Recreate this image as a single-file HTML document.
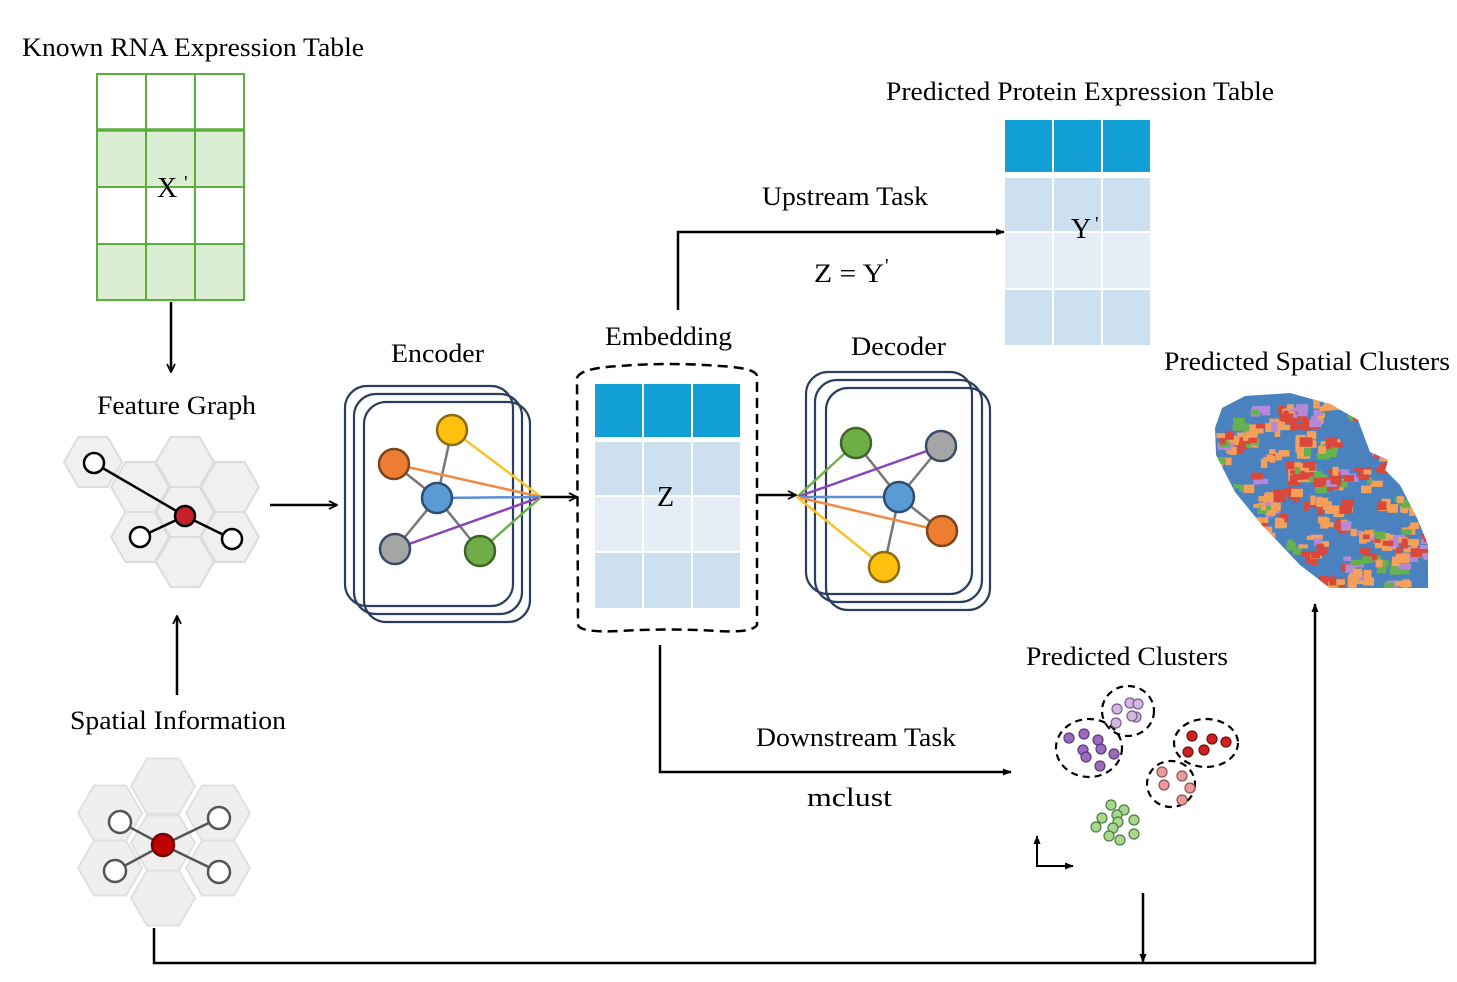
<!DOCTYPE html>
<html><head><meta charset="utf-8"><style>
html,body{margin:0;padding:0;background:#fff;}
svg{display:block;}
text{font-family:"Liberation Serif",serif;fill:#000;}
</style></head><body>
<svg id="s" width="1457" height="982" viewBox="0 0 1457 982" xmlns="http://www.w3.org/2000/svg">
<defs>
<marker id="ah" viewBox="0 0 10 10" refX="9" refY="5" markerWidth="10" markerHeight="10" markerUnits="userSpaceOnUse" orient="auto">
<path d="M1,1 L9,5 L1,9" fill="none" stroke="#000" stroke-width="1.8"/></marker>
<marker id="at" viewBox="0 0 10 10" refX="9" refY="5" markerWidth="9" markerHeight="9" markerUnits="userSpaceOnUse" orient="auto">
<path d="M0,1 L10,5 L0,9 z" fill="#000"/></marker>
<clipPath id="blob"><path d="M1215,428 L1222,408 L1245,396 L1290,393 L1330,404 L1358,420 L1370,452 L1388,460 L1385,470 L1400,485 L1418,520 L1428,545 L1428,588 L1330,588 L1300,565 L1262,525 L1235,492 L1216,455 Z"/></clipPath>
</defs>

<!-- Labels -->
<g font-size="26" lengthAdjust="spacingAndGlyphs">
<text x="22" y="56" textLength="342" lengthAdjust="spacingAndGlyphs">Known RNA Expression Table</text>
<text x="886" y="100" textLength="388" lengthAdjust="spacingAndGlyphs">Predicted Protein Expression Table</text>
<text x="762" y="205" textLength="166" lengthAdjust="spacingAndGlyphs">Upstream Task</text>
<text x="814" y="282" textLength="70" lengthAdjust="spacingAndGlyphs">Z = Y</text><text x="885" y="272" font-size="20">'</text>
<text x="605" y="345" textLength="127" lengthAdjust="spacingAndGlyphs">Embedding</text>
<text x="391" y="362" textLength="93" lengthAdjust="spacingAndGlyphs">Encoder</text>
<text x="851" y="355" textLength="95" lengthAdjust="spacingAndGlyphs">Decoder</text>
<text x="1164" y="370" textLength="286" lengthAdjust="spacingAndGlyphs">Predicted Spatial Clusters</text>
<text x="97" y="414" textLength="159" lengthAdjust="spacingAndGlyphs">Feature Graph</text>
<text x="1026" y="665" textLength="202" lengthAdjust="spacingAndGlyphs">Predicted Clusters</text>
<text x="70" y="729" textLength="216" lengthAdjust="spacingAndGlyphs">Spatial Information</text>
<text x="756" y="746" textLength="200" lengthAdjust="spacingAndGlyphs">Downstream Task</text>
<text x="807" y="806" textLength="85" lengthAdjust="spacingAndGlyphs">mclust</text>
</g>

<!-- RNA table -->
<g stroke="#5aaf3c" stroke-width="2" fill="none">
<rect x="97" y="130" width="147" height="57" fill="#dbeed4" stroke="none"/>
<rect x="97" y="244" width="147" height="56" fill="#dbeed4" stroke="none"/>
<rect x="97" y="74" width="147" height="226"/>
<line x1="146" y1="74" x2="146" y2="300"/><line x1="195" y1="74" x2="195" y2="300"/>
<line x1="97" y1="130" x2="244" y2="130" stroke-width="3.5"/>
<line x1="97" y1="187" x2="244" y2="187"/><line x1="97" y1="244" x2="244" y2="244"/>
</g>
<text x="157" y="197" font-size="28">X</text><text x="184" y="189" font-size="20">'</text>

<!-- Protein table -->
<g>
<rect x="1005" y="120" width="145" height="52" fill="#119fd6"/>
<rect x="1005" y="178" width="145" height="54" fill="#cde0ef"/>
<rect x="1005" y="232" width="145" height="57" fill="#e5eef7"/>
<rect x="1005" y="289" width="145" height="56" fill="#cde0ef"/>
<g stroke="#fff" stroke-width="2"><line x1="1053" y1="118" x2="1053" y2="347"/><line x1="1102" y1="118" x2="1102" y2="347"/><line x1="1005" y1="232" x2="1150" y2="232"/><line x1="1005" y1="289" x2="1150" y2="289"/></g>
</g>
<text x="1071" y="238" font-size="28">Y</text><text x="1095" y="230" font-size="20">'</text>

<!-- Embedding -->
<path d="M577,378 Q580,368 620,366 Q668,362 720,366 Q756,368 757,376 L757,625 Q752,633 718,631 Q668,628 620,631 Q578,633 578,624 Z" fill="none" stroke="#000" stroke-width="2.5" stroke-dasharray="10,6"/>
<rect x="595" y="384" width="145" height="53" fill="#119fd6"/>
<rect x="595" y="442" width="145" height="54" fill="#cde0ef"/>
<rect x="595" y="496" width="145" height="56" fill="#e5eef7"/>
<rect x="595" y="552" width="145" height="56" fill="#cde0ef"/>
<g stroke="#fff" stroke-width="2"><line x1="643" y1="382" x2="643" y2="610"/><line x1="692" y1="382" x2="692" y2="610"/><line x1="595" y1="496" x2="740" y2="496"/><line x1="595" y1="552" x2="740" y2="552"/></g>
<text x="657" y="506" font-size="28">Z</text>

<!-- Encoder -->
<g fill="none" stroke="#2c3e5e" stroke-width="2.2">
<rect x="345" y="386" width="168" height="220" rx="22"/>
<rect x="354" y="394" width="168" height="220" rx="22"/>
<rect x="364" y="402" width="166" height="220" rx="22"/>
</g>
<g stroke-width="2.5">
<line x1="437" y1="498" x2="452" y2="430" stroke="#777"/><line x1="437" y1="498" x2="394" y2="464" stroke="#777"/>
<line x1="437" y1="498" x2="395" y2="549" stroke="#777"/><line x1="437" y1="498" x2="480" y2="551" stroke="#777"/>
<line x1="452" y1="430" x2="541" y2="497" stroke="#f7c325"/>
<line x1="394" y1="464" x2="541" y2="497" stroke="#f08a45"/>
<line x1="437" y1="498" x2="541" y2="497" stroke="#5b8fd8"/>
<line x1="395" y1="549" x2="541" y2="497" stroke="#8b44b8"/>
<line x1="480" y1="551" x2="541" y2="497" stroke="#6fb04a"/>
</g>
<g stroke-width="2.5">
<circle cx="452" cy="430" r="15" fill="#fec00f" stroke="#8a6d10"/>
<circle cx="394" cy="464" r="15" fill="#ec7d31" stroke="#7a4520"/>
<circle cx="437" cy="498" r="15" fill="#5a9bd5" stroke="#2c4e70"/>
<circle cx="395" cy="549" r="15" fill="#a5a5a5" stroke="#3b4a66"/>
<circle cx="480" cy="551" r="15" fill="#6fad47" stroke="#3f6428"/>
</g>

<!-- Decoder -->
<g fill="none" stroke="#2c3e5e" stroke-width="2.2">
<rect x="806" y="372" width="166" height="222" rx="22"/>
<rect x="815" y="380" width="167" height="222" rx="22"/>
<rect x="826" y="388" width="164" height="222" rx="22"/>
</g>
<g stroke-width="2.5">
<line x1="899" y1="497" x2="856" y2="443" stroke="#777"/><line x1="899" y1="497" x2="941" y2="446" stroke="#777"/>
<line x1="899" y1="497" x2="942" y2="531" stroke="#777"/><line x1="899" y1="497" x2="884" y2="567" stroke="#777"/>
<line x1="797" y1="497" x2="856" y2="443" stroke="#6fb04a"/>
<line x1="797" y1="497" x2="941" y2="446" stroke="#8b44b8"/>
<line x1="797" y1="497" x2="899" y2="497" stroke="#5b8fd8"/>
<line x1="797" y1="497" x2="942" y2="531" stroke="#f08a45"/>
<line x1="797" y1="497" x2="884" y2="567" stroke="#f7c325"/>
</g>
<g stroke-width="2.5">
<circle cx="856" cy="443" r="15" fill="#6fad47" stroke="#3f6428"/>
<circle cx="941" cy="446" r="15" fill="#a5a5a5" stroke="#3b4a66"/>
<circle cx="899" cy="497" r="15" fill="#5a9bd5" stroke="#2c4e70"/>
<circle cx="942" cy="531" r="15" fill="#ec7d31" stroke="#7a4520"/>
<circle cx="884" cy="567" r="15" fill="#fec00f" stroke="#8a6d10"/>
</g>

<!-- Feature graph hexes -->
<g id="fg" fill="#f0f0f0" stroke="#dcdcdc" stroke-width="2"></g>
<g stroke="#000" stroke-width="2.5">
<line x1="94" y1="463" x2="185" y2="516"/><line x1="140" y1="537" x2="185" y2="516"/><line x1="232" y1="539" x2="185" y2="516"/>
<circle cx="94" cy="463" r="10" fill="#fff"/><circle cx="140" cy="537" r="10" fill="#fff"/><circle cx="232" cy="539" r="10" fill="#fff"/>
<circle cx="185" cy="516" r="10" fill="#c8202a"/>
</g>

<!-- Spatial info hexes -->
<g id="sg" fill="#efefef" stroke="#e0e0e0" stroke-width="2"></g>
<g stroke="#555" stroke-width="2.5">
<line x1="120" y1="822" x2="163" y2="845"/><line x1="219" y1="818" x2="163" y2="845"/>
<line x1="115" y1="871" x2="163" y2="845"/><line x1="219" y1="872" x2="163" y2="845"/>
<circle cx="120" cy="822" r="11" fill="#fff"/><circle cx="219" cy="818" r="11" fill="#fff"/>
<circle cx="115" cy="871" r="11" fill="#fff"/><circle cx="219" cy="872" r="11" fill="#fff"/>
<circle cx="163" cy="845" r="11" fill="#c00000" stroke="#700"/>
</g>

<!-- Spatial clusters blob -->
<g clip-path="url(#blob)"><rect x="1210" y="390" width="220" height="200" fill="#4a82c0"/><g id="bp"></g></g>

<!-- Predicted clusters -->
<g fill="none" stroke="#000" stroke-width="2.2" stroke-dasharray="7,5">
<ellipse cx="1089" cy="748" rx="33" ry="29"/>
<ellipse cx="1128" cy="711" rx="26" ry="25"/>
<ellipse cx="1206" cy="743" rx="32" ry="24"/>
<ellipse cx="1171" cy="784" rx="24" ry="23"/>
</g>
<g id="pc" stroke-width="1.2"></g>
<!-- small axes -->
<g stroke="#000" stroke-width="2">
<line x1="1037" y1="866" x2="1037" y2="836" marker-end="url(#at)"/>
<line x1="1036" y1="866" x2="1073" y2="866" marker-end="url(#at)"/>
</g>

<!-- Connectors -->
<g fill="none" stroke="#000" stroke-width="2.5">
<line x1="171" y1="302" x2="171" y2="372" marker-end="url(#ah)"/>
<line x1="270" y1="505" x2="337" y2="505" marker-end="url(#ah)"/>
<line x1="541" y1="497" x2="577" y2="497" marker-end="url(#ah)"/>
<line x1="758" y1="495" x2="796" y2="495" marker-end="url(#ah)"/>
<line x1="177" y1="695" x2="177" y2="616" marker-end="url(#ah)"/>
<polyline points="678,310 678,232 1004,232" marker-end="url(#at)"/>
<polyline points="660,645 660,772 1011,772" marker-end="url(#at)"/>
<polyline points="154,928 154,963 1315,963 1315,604" marker-end="url(#at)"/>
<line x1="1143" y1="893" x2="1143" y2="962" marker-end="url(#at)"/>
</g>
</svg>
<script>
var NS="http://www.w3.org/2000/svg";
function hex(g,cx,cy,w,h){var p=document.createElementNS(NS,"polygon");
var a=w/2,q=w/4,b=h/2;p.setAttribute("points",[cx-a,cy,cx-q,cy-b,cx+q,cy-b,cx+a,cy,cx+q,cy+b,cx-q,cy+b].join(" "));g.appendChild(p);}
var fg=document.getElementById("fg");
[[93,462],[185,462],[140,487],[230,487],[185,512],[140,537],[230,537],[185,562]].forEach(function(c){hex(fg,c[0],c[1],58,50);});
var sg=document.getElementById("sg");
[[163,786],[110,813],[218,813],[163,843],[110,868],[218,868],[163,898]].forEach(function(c){hex(sg,c[0],c[1],64,55);});
var bp=document.getElementById("bp");var seed=7;function r(){seed=(seed*9301+49297)%233280;return seed/233280;}
var cols=["#f5a05a","#f5a05a","#f5a05a","#d9483a","#d9483a","#66b050","#b48ad8"];
for(var i=0;i<140;i++){var x=1218+r()*210,y=400+r()*188;var c=cols[Math.floor(r()*cols.length)];
for(var k=0;k<4;k++){var e=document.createElementNS(NS,"rect");
e.setAttribute("x",x+(r()-0.5)*14);e.setAttribute("y",y+(r()-0.5)*10);e.setAttribute("width",5+r()*8);e.setAttribute("height",4+r()*6);
e.setAttribute("fill",k==3?cols[Math.floor(r()*cols.length)]:c);bp.appendChild(e);}}
var pc=document.getElementById("pc");
function dots(list,f,s){list.forEach(function(c){var e=document.createElementNS(NS,"circle");e.setAttribute("cx",c[0]);e.setAttribute("cy",c[1]);e.setAttribute("r",5);e.setAttribute("fill",f);e.setAttribute("stroke",s);pc.appendChild(e);});}
dots([[1069,738],[1084,734],[1098,740],[1083,750],[1101,749],[1086,757],[1114,754],[1100,766]],"#9b6bbd","#5a3b78");
dots([[1117,709],[1130,703],[1138,704],[1136,717],[1132,716],[1116,723]],"#d2b8e0","#7a5a90");
dots([[1192,736],[1212,739],[1226,742],[1188,752],[1204,750]],"#d02020","#701010");
dots([[1162,772],[1182,776],[1164,785],[1190,788],[1182,800]],"#ea9a9a","#905050");
dots([[1111,805],[1124,810],[1117,815],[1134,820],[1102,818],[1118,822],[1113,828],[1096,827],[1134,834],[1109,836],[1120,840]],"#a8d890","#4f7a3f");
</script>
</body></html>
